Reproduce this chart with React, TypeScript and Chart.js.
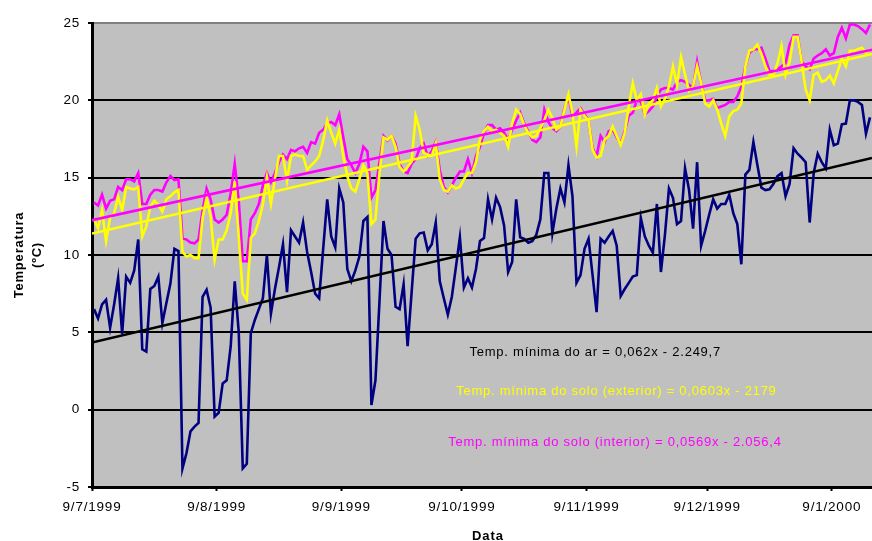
import React, { useEffect, useRef } from "react";
import { Chart, registerables } from "chart.js";

Chart.register(...registerables);

// Daily minimum temperatures (ºC), one value per day starting 9 Jul 1999.
const START_LABELS = ["9/7/1999", "9/8/1999", "9/9/1999", "9/10/1999", "9/11/1999", "9/12/1999", "9/1/2000"];
// Day offsets (from 9/7/1999) of the monthly axis ticks.
const TICK_DAYS = [0, 31, 62, 92, 123, 153, 184];
const AXIS_DAYS = 194;

const airMin = [
  6.5, 5.9, 6.8, 7.1, 5.3, 6.8, 8.5, 4.9, 8.6, 8.2,
  9.0, 11.0, 3.9, 3.75, 7.8, 8.0, 8.6, 5.6, 6.9, 8.15,
  10.4, 10.25, -3.8, -2.8, -1.4, -1.1, -0.85, 7.3, 7.75, 6.6,
  -0.45, -0.2, 1.7, 1.9, 4.1, 8.3, 5.0, -3.8, -3.5, 4.95,
  5.8, 6.5, 7.2, 10.0, 6.2, 7.8, 9.2, 10.7, 7.6, 11.6,
  11.2, 10.8, 12.1, 10.2, 8.9, 7.5, 7.2, 10.4, 13.6, 11.2,
  10.5, 14.3, 13.4, 9.1, 8.3, 9.0, 9.9, 12.2, 12.45, 0.3,
  1.9, 7.0, 12.2, 10.4, 10.0, 6.65, 6.5, 8.1, 4.1, 7.6,
  11.05, 11.4, 11.45, 10.3, 10.7, 12.1, 8.3, 7.2, 6.15, 7.3,
  9.2, 11.15, 7.9, 8.5, 7.9, 9.1, 10.9, 11.1, 13.6, 12.3,
  13.7, 13.1, 11.9, 8.9, 9.55, 13.6, 11.15, 11.05, 10.8, 10.9,
  11.3, 12.3, 15.3, 15.3, 11.4, 13.0, 14.3, 13.4, 15.8, 13.8,
  8.2, 8.7, 10.4, 11.05, 8.7, 6.3, 11.05, 10.8, 11.2, 11.55,
  10.6, 7.35, 7.8, 8.2, 8.6, 8.7, 12.4, 11.2, 10.6, 10.15,
  13.3, 8.9, 11.3, 14.3, 13.7, 12.0, 12.2, 15.6, 14.2, 11.7,
  16.0, 10.6, 11.55, 12.6, 13.6, 13.0, 13.3, 13.3, 13.9, 12.7,
  12.0, 9.4, 15.2, 15.5, 17.3, 15.8, 14.35, 14.2, 14.25, 14.6,
  15.1, 15.3, 13.8, 14.6, 16.9, 16.55, 16.3, 16.0, 12.1, 15.3,
  16.55, 16.0, 15.6, 18.1, 17.1, 17.2, 18.45, 18.5, 20.0, 20.0,
  19.9, 19.7, 17.85, 18.9,
];

const soilExterior = [
  12.3, 11.75, 12.9, 10.9, 12.4, 12.7, 13.75, 12.9, 14.4, 14.3,
  14.25, 14.4, 11.2, 11.85, 13.1, 13.5, 13.25, 12.8, 13.6, 13.8,
  14.05, 14.2, 10.2, 9.9, 10.0, 9.8, 9.8, 12.4, 13.7, 12.5,
  9.7, 11.0, 11.0, 11.6, 12.7, 14.75, 11.2, 7.5, 7.1, 11.1,
  11.4, 12.2, 13.3, 15.0, 13.3, 14.9, 16.4, 16.4, 14.8, 16.4,
  16.5, 16.4, 16.4, 15.5, 15.8, 16.05, 16.4, 17.4, 18.7, 17.9,
  17.2, 18.1, 16.4, 15.1, 14.3, 14.1, 14.9, 15.8, 15.3, 12.0,
  12.3, 15.3, 17.6, 17.45, 17.7, 17.0, 15.7, 15.4, 15.7, 16.05,
  19.0, 18.1, 16.6, 16.5, 16.4, 17.2, 14.9, 14.2, 14.1, 14.5,
  14.3, 14.4, 14.9, 15.3, 15.3, 16.0, 17.45, 18.0, 18.3, 18.0,
  18.1, 17.9, 17.7, 17.0, 18.5, 19.4, 19.1, 18.4, 17.9, 17.6,
  17.7, 18.2, 18.7, 19.4, 18.85, 18.1, 18.3, 19.4, 20.4, 19.2,
  17.0, 19.4, 19.0, 18.7, 16.8, 16.3, 16.4, 17.45, 17.7, 18.3,
  17.7, 17.1, 17.9, 19.6, 21.1, 20.0, 20.4, 19.07, 19.8, 20.0,
  20.8, 19.6, 20.1, 20.9, 22.2, 21.0, 22.8, 21.65, 20.6, 20.9,
  22.2, 21.1, 19.8, 19.6, 20.0, 19.4, 18.5, 17.7, 18.96, 19.3,
  19.4, 19.8, 22.2, 23.2, 23.3, 23.6, 23.0, 22.2, 21.65, 21.65,
  22.4, 23.5, 21.65, 22.5, 24.1, 24.1, 22.5, 20.7, 20.0, 21.65,
  21.8, 21.2, 21.3, 21.6, 21.1, 21.9, 22.7, 22.2, 23.2, 23.2,
  23.3, 23.4, 23.05, 23.3,
];

const soilInterior = [
  13.4, 13.2, 13.9, 13.0, 13.5, 13.6, 14.4, 14.2, 14.9, 14.9,
  14.75, 15.3, 13.3, 13.3, 13.9, 14.2, 14.2, 14.1, 14.7, 15.1,
  14.85, 14.9, 11.1, 11.0, 10.8, 10.75, 11.0, 12.9, 14.3, 13.6,
  12.3, 12.1, 12.3, 12.6, 14.0, 15.9, 13.5, 9.6, 9.6, 12.3,
  12.7, 13.3, 14.5, 15.3, 14.7, 15.3, 16.0, 16.5, 16.2, 16.8,
  16.7, 16.9, 17.0, 16.6, 17.3, 17.2, 17.9, 18.1, 18.5, 18.6,
  18.4, 19.1, 17.6, 16.2, 15.8, 15.3, 15.9, 17.0, 16.7, 13.7,
  14.2, 16.0, 17.7, 17.4, 17.7, 17.2, 15.9, 15.4, 15.3, 15.9,
  16.2, 16.9, 17.2, 16.4, 16.7, 17.3, 15.5, 14.4, 14.05, 14.5,
  15.0, 15.4, 15.4, 16.2, 15.3, 16.4, 17.0, 17.9, 18.4, 18.4,
  18.1, 18.2, 17.9, 17.45, 18.1, 18.7, 19.2, 18.5, 18.0, 17.45,
  17.3, 17.6, 19.4, 18.6, 18.2, 18.0, 18.3, 19.5, 20.2, 19.0,
  19.2, 19.5, 19.1, 18.7, 16.9, 16.4, 17.7, 17.3, 18.0, 18.1,
  17.6, 17.2, 18.0, 19.0, 19.2, 20.0, 19.9, 19.1, 19.3, 19.6,
  20.25, 20.7, 20.8, 20.8, 20.7, 21.2, 21.3, 21.2, 21.0, 20.8,
  22.5, 21.1, 20.0, 20.0, 20.1, 19.5, 19.6, 19.7, 19.9, 19.9,
  20.25, 20.9, 22.2, 23.05, 23.3, 23.3, 23.4, 22.7, 21.9, 21.9,
  22.0, 22.2, 22.4, 23.6, 24.2, 24.2, 22.5, 22.2, 22.0, 22.7,
  22.9, 23.05, 23.3, 22.9, 23.05, 24.1, 24.7, 24.0, 24.9, 24.9,
  24.8, 24.6, 24.35, 24.9,
];

const EQ_AIR = "Temp. mínima do ar = 0,062x - 2.249,7";
const EQ_EXT = "Temp. mínima do solo (exterior) = 0,0603x - 2179";
const EQ_INT = "Temp. mínima do solo (interior) = 0,0569x - 2.056,4";
const X_TITLE = "Data";
const Y_TITLE = ["Temperatura", "(ºC)"];

const FONT = "'Liberation Sans', Arial, sans-serif";
const NAVY = "#000080";
const YELLOW = "#FFFF00";
const MAGENTA = "#FF00FF";

// Each daily value sits in the middle of its day slot on the date axis.
const toPoints = (vals: number[]) => vals.map((y, i) => ({ x: i + 0.5, y }));

// Least-squares line through a series, evaluated across the whole axis.
function trendPoints(vals: number[]) {
  const pts = toPoints(vals);
  const n = pts.length;
  let sx = 0, sy = 0, sxx = 0, sxy = 0;
  for (const p of pts) {
    sx += p.x; sy += p.y; sxx += p.x * p.x; sxy += p.x * p.y;
  }
  const m = (n * sxy - sx * sy) / (n * sxx - sx * sx);
  const b = (sy - m * sx) / n;
  return [
    { x: 0, y: b },
    { x: AXIS_DAYS, y: b + m * AXIS_DAYS },
  ];
}

// Grey plot area, plus the slightly open text spacing used for all labels.
const plotBackground = {
  id: "plotBackground",
  beforeDraw(chart: any) {
    const { ctx, chartArea } = chart;
    ctx.save();
    ctx.fillStyle = "#C0C0C0";
    ctx.fillRect(chartArea.left, chartArea.top, chartArea.right - chartArea.left, chartArea.bottom - chartArea.top);
    ctx.restore();
    ctx.letterSpacing = "0.8px";
  },
};

const equationLabels = {
  id: "equationLabels",
  afterDatasetsDraw(chart: any) {
    const { ctx } = chart;
    const x = chart.scales.x;
    const y = chart.scales.y;
    const items = [
      { text: EQ_AIR, color: "#000000", day: 93.9, value: 3.7 },
      { text: EQ_EXT, color: YELLOW, day: 90.6, value: 1.16 },
      { text: EQ_INT, color: MAGENTA, day: 88.6, value: -2.14 },
    ];
    ctx.save();
    ctx.font = `13px ${FONT}`;
    ctx.letterSpacing = "0.75px";
    ctx.textAlign = "left";
    ctx.textBaseline = "middle";
    for (const it of items) {
      ctx.fillStyle = it.color;
      ctx.fillText(it.text, x.getPixelForValue(it.day), y.getPixelForValue(it.value));
    }
    ctx.restore();
  },
  afterDraw(chart: any) {
    const { ctx, chartArea } = chart;
    ctx.save();
    ctx.font = `bold 13px ${FONT}`;
    ctx.letterSpacing = "1px";
    ctx.fillStyle = "#000";
    ctx.textAlign = "center";
    ctx.textBaseline = "middle";
    ctx.fillText(X_TITLE, (chartArea.left + chartArea.right) / 2 + 6, chart.height - 5);
    ctx.restore();
  },
};

export default function App() {
  const canvasRef = useRef<HTMLCanvasElement | null>(null);

  useEffect(() => {
    document.body.style.margin = "0";
    const canvas = canvasRef.current;
    if (!canvas) return;

    const line = (data: any[], color: string, order: number, width = 2.6) => ({
      data,
      borderColor: color,
      backgroundColor: color,
      borderWidth: width,
      pointRadius: 0,
      tension: 0,
      fill: false,
      order,
    });

    const chart = new Chart(canvas, {
      type: "line",
      data: {
        datasets: [
          line(trendPoints(airMin), "#000000", 0),
          line(trendPoints(soilExterior), YELLOW, 0),
          line(trendPoints(soilInterior), MAGENTA, 0),
          line(toPoints(soilExterior), YELLOW, 1),
          line(toPoints(soilInterior), MAGENTA, 2),
          line(toPoints(airMin), NAVY, 3),
        ],
      },
      options: {
        animation: false,
        responsive: false,
        events: [],
        parsing: false,
        layout: { padding: { top: 23, right: 0, bottom: 0, left: 0 } },
        plugins: {
          legend: { display: false },
          tooltip: { enabled: false },
        },
        scales: {
          x: {
            type: "linear",
            min: 0,
            max: AXIS_DAYS,
            afterBuildTicks: (s: any) => {
              s.ticks = TICK_DAYS.map((v) => ({ value: v }));
            },
            afterFit: (s: any) => {
              s.height = 54;
            },
            ticks: {
              autoSkip: false,
              maxRotation: 0,
              padding: 8,
              color: "#000",
              font: { family: FONT, size: 13.5 },
              callback: (_v: any, i: number) => START_LABELS[i],
            },
            grid: {
              drawOnChartArea: false,
              drawTicks: true,
              tickLength: 4,
              tickColor: "#000",
              tickWidth: 2,
            },
            border: { color: "#000", width: 3 },
          },
          y: {
            min: -5,
            max: 25,
            afterFit: (s: any) => {
              s.width = 92;
            },
            ticks: {
              stepSize: 5,
              padding: 8,
              color: "#000",
              font: { family: FONT, size: 13.5 },
            },
            grid: {
              color: (c: any) => (c.tick && c.tick.value === 25 ? "#808080" : "#000000"),
              lineWidth: 2,
              drawTicks: true,
              tickLength: 4,
              tickColor: "#000",
              tickWidth: 2,
            },
            border: { color: "#000", width: 3 },
            title: {
              display: true,
              text: Y_TITLE,
              color: "#000",
              font: { family: FONT, size: 13, weight: "bold", lineHeight: 1.38 },
              padding: { top: 10.5, bottom: 0 },
            },
          },
        },
      },
      plugins: [plotBackground, equationLabels],
    } as any);

    return () => chart.destroy();
  }, []);

  return (
    <div style={{ width: 872, height: 541, background: "#fff" }}>
      <canvas ref={canvasRef} width={872} height={541} style={{ display: "block" }} />
    </div>
  );
}
